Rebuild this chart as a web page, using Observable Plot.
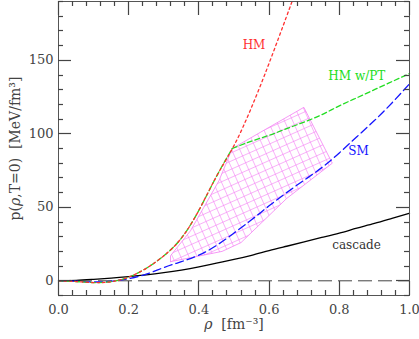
<!DOCTYPE html>
<html>
<head>
<meta charset="utf-8">
<script src="https://cdn.jsdelivr.net/npm/d3@7"></script>
<script src="https://cdn.jsdelivr.net/npm/@observablehq/plot@0.6"></script>
<style>
  html, body { margin: 0; padding: 0; background: white; }
</style>
</head>
<body>
<div id="chart"></div>
<script>
// ---- data ----
const rhoHM   = [0, 0.05, 0.1, 0.15, 0.2, 0.25, 0.3, 0.35, 0.4, 0.45, 0.5, 0.55, 0.6, 0.65, 0.67];
const pHM     = [0, -0.5, -1.2, -0.6, 2.5, 8.5, 17, 29, 48, 71, 92, 118, 148, 180, 193];

const rhoPT   = [0, 0.05, 0.1, 0.15, 0.2, 0.25, 0.3, 0.35, 0.4, 0.45, 0.495, 0.55, 0.6, 0.65, 0.7, 0.75, 0.8, 0.85, 0.9, 0.95, 1.0];
const pPT     = [0, -0.5, -1.2, -0.6, 2.5, 8.5, 17, 29, 48, 71, 90, 95, 99, 103.5, 108, 113, 119, 124.5, 130, 135.5, 141];

const rhoSM   = [0, 0.05, 0.1, 0.15, 0.2, 0.25, 0.3, 0.35, 0.4, 0.45, 0.5, 0.55, 0.6, 0.65, 0.7, 0.75, 0.8, 0.85, 0.9, 0.95, 1.0];
const pSM     = [0, -0.3, -0.8, -0.3, 1.5, 4.5, 9, 13, 17.5, 24, 32.5, 41.5, 51, 60, 68.5, 77, 87, 98, 109, 121, 134];

const rhoCas  = [0, 0.05, 0.1, 0.15, 0.2, 0.25, 0.3, 0.35, 0.4, 0.45, 0.5, 0.55, 0.6, 0.65, 0.7, 0.75, 0.8, 0.85, 0.9, 0.95, 1.0];
const pCas    = [0, 0.3, 1, 1.8, 2.8, 4, 5.5, 7.3, 9.5, 12, 14.5, 17.3, 20.5, 23.5, 26.5, 29.5, 32.5, 35.8, 39, 42.5, 46];

// constraint region (hatched polygon)
const rhoBand = [0.319, 0.319, 0.376, 0.414, 0.457, 0.495, 0.699, 0.78, 0.65, 0.52, 0.466, 0.319];
const pBand   = [13, 17, 34, 50, 68, 90, 118, 80, 56, 26, 20, 13];

// ticks
const xMajor = [0, 0.2, 0.4, 0.6, 0.8, 1.0];
const xMinor = [0.04, 0.08, 0.12, 0.16, 0.24, 0.28, 0.32, 0.36, 0.44, 0.48, 0.52, 0.56, 0.64, 0.68, 0.72, 0.76, 0.84, 0.88, 0.92, 0.96];
const yMajor = [0, 50, 100, 150];
const yMinor = [-10, 10, 20, 30, 40, 60, 70, 80, 90, 110, 120, 130, 140, 160, 170, 180, 190];

// labels
const curveLabels = ["HM", "HM w/PT", "SM", "cascade"];
const labelRho    = [0.557, 0.85, 0.855, 0.849];
const labelP      = [160, 139, 88, 24];
const labelColor  = ["#ff3030", "#22dd22", "#1515ff", "#333333"];
const xLabel = "ρ  [fm⁻³]";
const yLabel = "p(ρ,T=0)  [MeV/fm³]";

const zip = (xs, ys) => xs.map((x, i) => ({x, y: ys[i]}));
const hm = zip(rhoHM, pHM), pt = zip(rhoPT, pPT), sm = zip(rhoSM, pSM), cas = zip(rhoCas, pCas), band = zip(rhoBand, pBand);
const labels = curveLabels.map((t, i) => ({t, x: labelRho[i], y: labelP[i], c: labelColor[i]}));

const NS = "http://www.w3.org/2000/svg";
const defs = () => {
  const g = document.createElementNS(NS, "defs");
  g.innerHTML = `<pattern id="hatch" patternUnits="userSpaceOnUse" width="7.5" height="7.5" patternTransform="rotate(-24)"><path d="M0,0.3H7.5M0.3,0V7.5" stroke="#f47ff4" stroke-width="0.7" fill="none"/></pattern>`;
  return g;
};

const tc = "#444";
// inward ticks drawn through the plot's own x / y scales
const tickMark = (vals, len, side) => (index, scales, values, dim) => {
  const g = document.createElementNS(NS, "g");
  g.setAttribute("stroke", tc);
  g.setAttribute("stroke-width", "1.2");
  const bottom = dim.height - dim.marginBottom, top = dim.marginTop;
  const left = dim.marginLeft, right = dim.width - dim.marginRight;
  for (const v of vals) {
    const l = document.createElementNS(NS, "line");
    let x1, x2, y1, y2;
    if (side === "bottom" || side === "top") {
      x1 = x2 = Math.round(scales.x(v)) + 0.5;
      y1 = side === "bottom" ? bottom : top;
      y2 = side === "bottom" ? bottom - len : top + len;
    } else {
      y1 = y2 = Math.round(scales.y(v)) + 0.5;
      x1 = side === "left" ? left : right;
      x2 = side === "left" ? left + len : right - len;
    }
    l.setAttribute("x1", x1); l.setAttribute("x2", x2);
    l.setAttribute("y1", y1); l.setAttribute("y2", y2);
    g.appendChild(l);
  }
  return g;
};

const chart = Plot.plot({
  width: 419, height: 339,
  marginLeft: 58, marginRight: 10, marginTop: 1, marginBottom: 44,
  x: {domain: [0, 1], axis: null},
  y: {domain: [-10, 190], axis: null},
  style: {fontFamily: "DejaVu Serif", fontSize: "13px", color: "#444", background: "white"},
  marks: [
    defs,
    Plot.line(band, {x: "x", y: "y", fill: "url(#hatch)", stroke: "#f47ff4", strokeWidth: 0.8}),
    Plot.ruleY([0], {stroke: "#444", strokeWidth: 1, strokeDasharray: "14,6"}),
    Plot.line(cas, {x: "x", y: "y", stroke: "#000", strokeWidth: 1.3, curve: "natural"}),
    Plot.line(sm, {x: "x", y: "y", stroke: "#1515ff", strokeWidth: 1.3, strokeDasharray: "8,4", curve: "natural"}),
    Plot.line(pt.slice(0, 11), {x: "x", y: "y", stroke: "#22dd22", strokeWidth: 1.3, strokeDasharray: "5,3", curve: "natural"}),
    Plot.line(pt.slice(10), {x: "x", y: "y", stroke: "#22dd22", strokeWidth: 1.3, strokeDasharray: "5,3", curve: "natural"}),
    Plot.line(hm, {x: "x", y: "y", stroke: "#ff3030", strokeWidth: 1.3, strokeDasharray: "2.5,3", curve: "natural", clip: true}),
    Plot.text(labels, {x: "x", y: "y", text: "t", fill: "c", fontSize: 12}),
    Plot.frame({stroke: "#555"}),
    Plot.axisX(xMajor, {anchor: "bottom", tickSize: 0, tickPadding: 9, tickFormat: d3.format(".1f"), label: null}),
    Plot.axisY(yMajor, {anchor: "left", tickSize: 0, tickPadding: 5, tickFormat: d3.format("d"), label: null}),
    Plot.text([xLabel], {frameAnchor: "bottom", dy: 33, fontSize: 14, fill: "#444"}),
    Plot.text([yLabel], {frameAnchor: "left", dx: -43, rotate: -90, textAnchor: "middle", lineAnchor: "middle", fontSize: 14, fill: "#444"}),
    tickMark(xMajor, 14, "bottom"), tickMark(xMinor, 5, "bottom"),
    tickMark(xMajor, 14, "top"), tickMark(xMinor, 5, "top"),
    tickMark(yMajor, 13, "left"), tickMark(yMinor, 5, "left"),
    tickMark(yMajor, 13, "right"), tickMark(yMinor, 5, "right")
  ]
});
document.getElementById("chart").appendChild(chart);
// italic rho in axis labels
chart.querySelectorAll("text").forEach(t => {
  if (t.textContent === xLabel || t.textContent === yLabel) {
    const parts = t.textContent.split("ρ");
    t.textContent = "";
    parts.forEach((s, i) => {
      if (i > 0) {
        const r = document.createElementNS(NS, "tspan");
        r.setAttribute("font-style", "italic");
        r.textContent = "ρ";
        t.appendChild(r);
      }
      const n = document.createElementNS(NS, "tspan");
      n.textContent = s;
      t.appendChild(n);
    });
  }
});
</script>
</body>
</html>
